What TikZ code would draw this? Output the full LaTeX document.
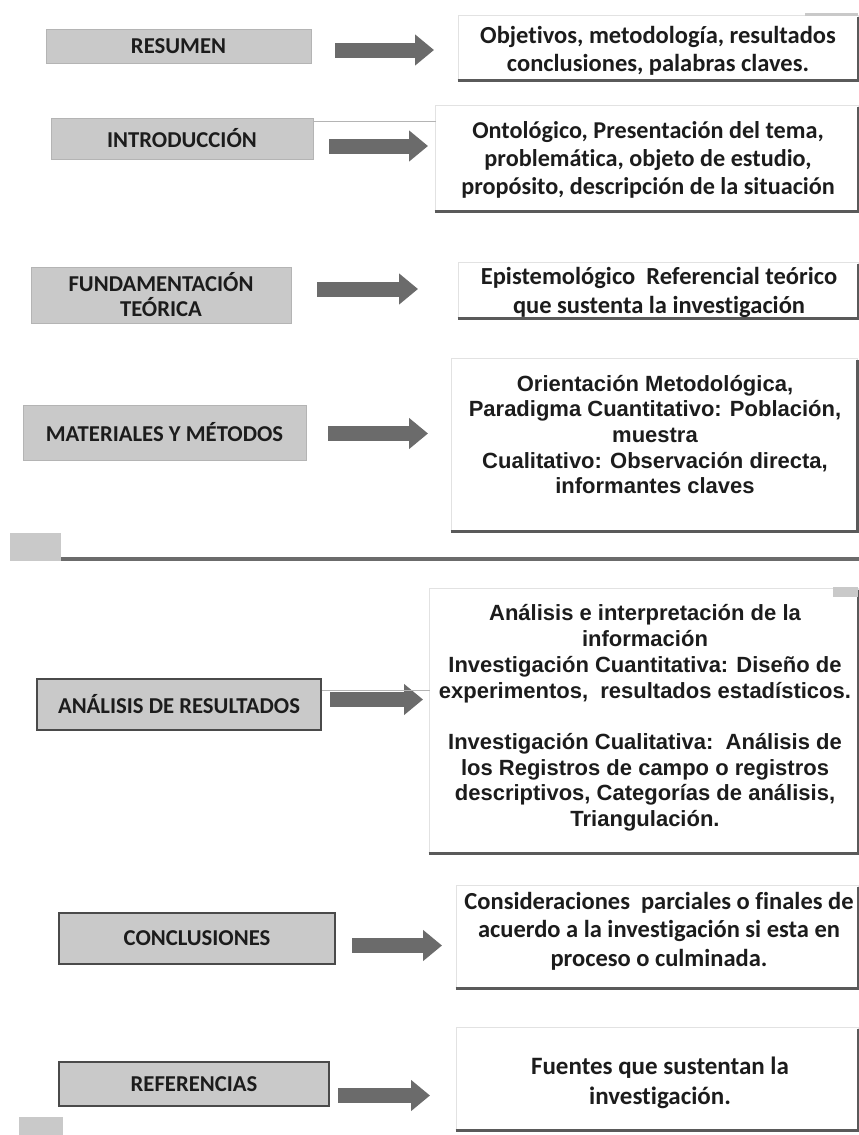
\documentclass[tikz,border=0pt]{standalone}
\usepackage{fontspec}
\setmainfont{Carlito}[Ligatures=NoCommon]
\newfontfamily\arialb{Liberation Sans}
\usetikzlibrary{arrows.meta}
\definecolor{boxgray}{HTML}{C9C9C9}
\definecolor{boxedge}{HTML}{B4B4B4}
\definecolor{darkedge}{HTML}{4A4A4A}
\definecolor{arrowgray}{HTML}{6B6B6B}
\definecolor{shadowgray}{HTML}{5A5A5A}
\definecolor{faint}{HTML}{E2E2E2}
\definecolor{inkc}{HTML}{1C1C1C}
\tikzset{
  lbox/.style={rectangle, fill=boxgray, draw=boxedge, line width=0.8pt, inner sep=0pt,
    align=center, text=inkc, font=\bfseries\fontsize{22.7}{25}\selectfont},
  lboxdark/.style={lbox, draw=darkedge, line width=1.6pt},
  rbox/.style={rectangle, fill=white, draw=faint, line width=0.8pt, inner sep=0pt},
  rtxt/.style={align=center, text=inkc, inner sep=0pt, font=\bfseries\fontsize{24.5}{28.5}\selectfont},
  rtxta/.style={align=center, text=inkc, inner sep=0pt, font=\arialb\bfseries\fontsize{22}{25.7}\selectfont},
  shadowline/.style={draw=shadowgray, line width=3pt},
  barrow/.style={draw=arrowgray, line width=15pt, line cap=butt,
    -{Triangle[width=30pt,length=19pt]}},
  thinline/.style={draw=boxedge, line width=0.8pt},
  graysq/.style={fill=boxgray, draw=none}
}
\begin{document}
\begin{tikzpicture}[x=1pt,y=-1pt]
\useasboundingbox (0,0) rectangle (859,1135);
\fill[white] (0,0) rectangle (859,1135);

% ---------- left boxes ----------
\node[lbox, minimum width=265pt, minimum height=34pt] (l1) at (178.5,46) {RESUMEN};
\node[lbox, minimum width=262pt, minimum height=41pt] (l2) at (182,138.5) {INTRODUCCIÓN};
\node[lbox, minimum width=260pt, minimum height=56pt] (l3) at (161,295) {FUNDAMENTACIÓN\\TEÓRICA};
\node[lbox, minimum width=283pt, minimum height=55pt] (l4) at (164.5,432.5) {MATERIALES Y MÉTODOS};
\node[lboxdark, minimum width=284pt, minimum height=51pt] (l5) at (179,704.5) {ANÁLISIS DE RESULTADOS};
\node[lboxdark, minimum width=276pt, minimum height=51pt] (l6) at (197,938.5) {CONCLUSIONES};
\node[lboxdark, minimum width=270pt, minimum height=44pt] (l7) at (194,1084) {REFERENCIAS};

% ---------- right boxes ----------
\node[rbox, minimum width=400pt, minimum height=65pt] (r1) at (658,47.5) {};
\node[rbox, minimum width=423pt, minimum height=106pt] (r2) at (646.5,158) {};
\node[rbox, minimum width=400pt, minimum height=56pt] (r3) at (658,290) {};
\node[rbox, minimum width=406pt, minimum height=173pt] (r4) at (654,444.5) {};
\node[rbox, minimum width=429pt, minimum height=265pt] (r5) at (643.5,720.5) {};
\node[rbox, minimum width=402pt, minimum height=103pt] (r6) at (657,936.5) {};
\node[rbox, minimum width=402pt, minimum height=103pt] (r7) at (657,1078.5) {};

% shadows
\foreach \b in {r1,r2,r3,r4,r5,r6,r7}{
  \draw[shadowline] (\b.south west) -- (\b.south east) -- ([yshift=-2pt]\b.north east);
}

% texts in right boxes
\node[rtxt] (t1) at (658,51) {Objetivos, metodología, resultados\\conclusiones, palabras claves.};
\node[rtxt, font=\bfseries\fontsize{24.2}{28}\selectfont] (t2) at (648,160) {Ontológico, Presentación del tema,\\problemática, objeto de estudio,\\propósito, descripción de la situación};
\node[rtxt] (t3) at (659,292.5) {Epistemológico\ \ Referencial teórico\\que sustenta la investigación};
\node[rtxta] (t4) at (655,434.5) {Orientación Metodológica,\\Paradigma Cuantitativo: Población,\\muestra\\Cualitativo: Observación directa,\\informantes claves};
\node[rtxta] (t5) at (645,718) {Análisis e interpretación de la\\información\\Investigación Cuantitativa: Diseño de\\experimentos,\ \ resultados estadísticos.\\[25.7pt]Investigación Cualitativa:\ \ Análisis de\\los Registros de campo o registros\\descriptivos, Categorías de análisis,\\Triangulación.};
\node[rtxt] (t6) at (659,931) {Consideraciones\ \ parciales o finales de\\acuerdo a la investigación si esta en\\proceso o culminada.};
\node[rtxt, font=\bfseries\fontsize{25}{30}\selectfont] (t7) at (660,1083) {Fuentes que sustentan la\\investigación.};

% ---------- block arrows ----------
\coordinate (a1s) at (335,50);   \coordinate (a1e) at (434,50);
\coordinate (a2s) at (329,146);  \coordinate (a2e) at (428,146);
\coordinate (a3s) at (317,289);  \coordinate (a3e) at (418,289);
\coordinate (a4s) at (328,433.5);\coordinate (a4e) at (428,433.5);
\coordinate (a5s) at (330,699.5);\coordinate (a5e) at (423,699.5);
\coordinate (a6s) at (352,945.5);\coordinate (a6e) at (442,945.5);
\coordinate (a7s) at (338,1095.5);\coordinate (a7e) at (430,1095.5);
\foreach \i in {1,...,7}{ \draw[barrow] (a\i s) -- (a\i e); }

% ---------- thin lines ----------
\coordinate (k2) at (436,121);
\draw[thinline] (l2.east |- k2) -- (k2);
\coordinate (k5) at (430,690);
\draw[thinline] (l5.east |- k5) -- (k5);

% ---------- decorative squares and separator ----------
\node[graysq, minimum width=51pt, minimum height=28pt, inner sep=0pt] (sq1) at (35.5,547) {};
\coordinate (sepend) at (859,559);
\draw[draw=arrowgray, line width=4pt] (sq1.east |- sepend) -- (sepend);
\node[graysq, minimum width=25pt, minimum height=10pt, inner sep=0pt] (sq2) at (845.5,592) {};
\node[graysq, minimum width=53pt, minimum height=3pt, inner sep=0pt] (sq3) at (831.5,14.5) {};
\node[graysq, minimum width=44pt, minimum height=18pt, inner sep=0pt] (sq4) at (41,1126) {};
\end{tikzpicture}
\end{document}
